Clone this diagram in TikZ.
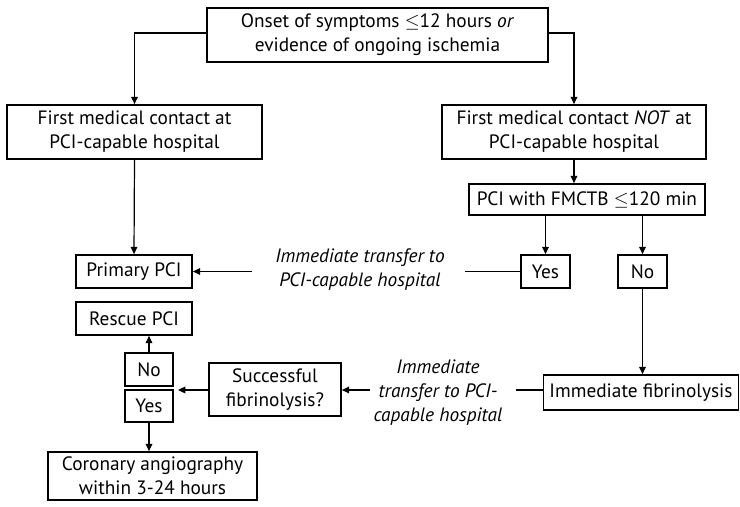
\documentclass[tikz,border=0pt]{standalone}
\usepackage{fontspec}
\setmainfont{PT Sans}
\usetikzlibrary{arrows.meta}
\begin{document}
\begin{tikzpicture}[x=0.75pt,y=-0.75pt,
  box/.style={draw, line width=1.3pt, align=center, inner sep=0pt,
    font=\fontsize{14.5}{18}\selectfont},
  lbl/.style={align=center, inner sep=0pt, font=\fontsize{14.5}{18}\selectfont\itshape},
  conn/.style={line width=0.9pt},
  arr/.style={conn, -{Triangle[length=5.5pt,width=5pt]}}]
\useasboundingbox (0,0) rectangle (740,507);
\node[box, minimum width=341*0.75pt, minimum height=54*0.75pt] (top) at (377.5,35) {Onset of symptoms $\leq$12 hours \textit{or}\\evidence of ongoing ischemia};
\node[box, minimum width=255*0.75pt, minimum height=54*0.75pt] (left1) at (134.5,132) {First medical contact at\\PCI-capable hospital};
\node[box, minimum width=264*0.75pt, minimum height=54*0.75pt] (right1) at (574,132) {First medical contact \textit{NOT} at\\PCI-capable hospital};
\node[box, minimum width=236*0.75pt, minimum height=31*0.75pt] (fmctb) at (587,199.5) {PCI with FMCTB $\leq$120 min};
\node[box, minimum width=116*0.75pt, minimum height=33*0.75pt] (primary) at (134,271.5) {Primary PCI};
\node[box, minimum width=49*0.75pt, minimum height=33*0.75pt] (yes1) at (545.5,271.5) {Yes};
\node[box, minimum width=49*0.75pt, minimum height=33*0.75pt] (no1) at (642.5,271.5) {No};
\node[box, minimum width=116*0.75pt, minimum height=33*0.75pt] (rescue) at (134,318.5) {Rescue PCI};
\node[box, minimum width=48*0.75pt, minimum height=33*0.75pt] (no2) at (149,369.5) {No};
\node[box, minimum width=48*0.75pt, minimum height=32*0.75pt] (yes2) at (149,406) {Yes};
\node[box, minimum width=132*0.75pt, minimum height=53*0.75pt] (succ) at (275,389.5) {Successful\\fibrinolysis?};
\node[box, minimum width=195*0.75pt, minimum height=35*0.75pt] (fib) at (641,392.5) {Immediate fibrinolysis};
\node[box, minimum width=209*0.75pt, minimum height=48*0.75pt] (coro) at (152.5,476) {Coronary angiography\\within 3-24 hours};
\node[lbl] (l1) at (360,270) {Immediate transfer to\\PCI-capable hospital};
\node[lbl] (l2) at (438,393) {Immediate\\transfer to PCI-\\capable hospital};
\coordinate (a1) at (465,271.5);
\coordinate (a2) at (252,271.5);
\coordinate (b1) at (516,390);
\coordinate (b2) at (370,390);
\coordinate (c1) at (178,390);
\draw[arr] (top.west |- 0,33) -| (left1.north);
\draw[arr] (top.east |- 0,33) -| (right1.north);
\draw[arr] (left1.south) -- (primary.north);
\draw[arr] (right1.south) -- (right1.south |- fmctb.north);
\draw[arr] (yes1.north |- fmctb.south) -- (yes1.north);
\draw[arr] (no1.north |- fmctb.south) -- (no1.north);
\draw[conn] (yes1.west) -- (a1);
\draw[arr] (a2) -- (primary.east);
\draw[arr] (no1.south) -- (no1.south |- fib.north);
\draw[conn] (fib.west |- b1) -- (b1);
\draw[arr] (b2) -- (succ.east |- b2);
\draw[arr] (succ.west |- c1) -- (c1);
\draw[arr] (no2.north) -- (no2.north |- rescue.south);
\draw[arr] (yes2.south) -- (yes2.south |- coro.north);
\end{tikzpicture}
\end{document}
